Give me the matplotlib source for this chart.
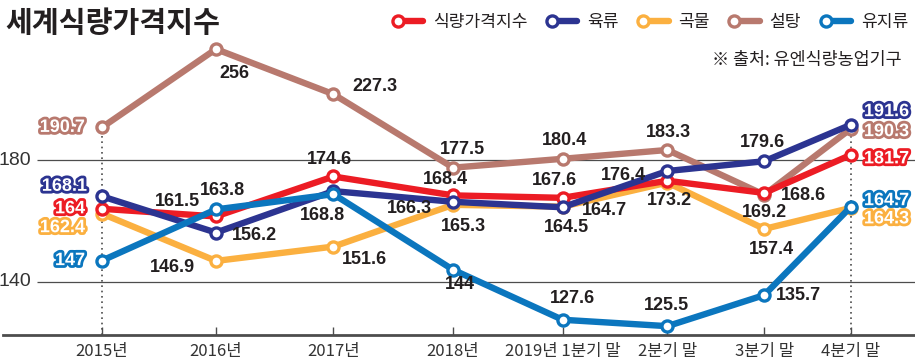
import matplotlib
matplotlib.use("Agg")
import matplotlib.pyplot as plt
import matplotlib.patheffects as pe
import numpy as np
from matplotlib.lines import Line2D
from matplotlib.legend_handler import HandlerLine2D
from matplotlib.font_manager import FontProperties

plt.rcParams["font.family"] = ["Liberation Sans", "Noto Sans CJK KR"]

# ---- data ----
categories = ["2015년", "2016년", "2017년", "2018년",
              "2019년 1분기 말", "2분기 말", "3분기 말", "4분기 말"]
food = [164.0, 161.5, 174.6, 168.4, 167.6, 173.2, 169.2, 181.7]
meat = [168.1, 156.2, 169.8, 166.3, 164.5, 176.4, 179.6, 191.6]
cereal = [162.4, 146.9, 151.6, 165.3, 164.7, 172.6, 157.4, 164.3]
sugar = [190.7, 256.0, 227.3, 177.5, 180.4, 183.3, 168.6, 190.3]
oils = [147.0, 163.8, 168.8, 144.0, 127.6, 125.5, 135.7, 164.7]
labeled = {  # which points carry a number in the reference
    "meat": [True, True, False, True, True, True, True, True],
    "cereal": [True, True, True, True, True, False, True, True],
}
series_names = ["식량가격지수", "육류", "곡물", "설탕", "유지류"]
y_ticks = [140, 180]

# ---- layout / style ----
x_pos = [0, 1, 2.03, 3.08, 4.04, 4.96, 5.81, 6.57]  # uneven spacing as in the original
colors = {"food": "#ec1c24", "meat": "#2c3491", "cereal": "#fbb040",
          "sugar": "#b8796e", "oils": "#0b76be"}
DARK = "#231f20"
GRID = "#4d4d4d"

# label offsets in pixels (dx, dy, ha); first/last labels are white with coloured outline
offsets = {
    "food": [(-17, 0, "right"), (-16, 15, "right"), (-4, 17, "center"), (-8, 16, "center"),
             (-8, 17, "center"), (2, -20, "center"), (0, -20, "center"), (13, -4, "left")],
    "meat": [(-15, 10, "right"), (16, -3, "left"), None, (-21, -7, "right"),
             (4, -20, "center"), (-21, -4, "right"), (-2, 19, "center"), (13, 13, "left")],
    "cereal": [(-17, -14, "right"), (-21, -7, "right"), (9, -13, "left"), (10, -22, "center"),
               (19, -4, "left"), None, (7, -21, "center"), (13, -11, "left")],
    "sugar": [(-17, 0, "right"), (18, -24, "center"), (19, 8, "left"), (9, 18, "center"),
              (2, 18, "center"), (1, 17, "center"), (17, -1, "left"), (13, -3, "left")],
    "oils": [(-17, 0, "right"), (6, 19, "center"), (-11, -21, "center"), (7, -15, "center"),
             (10, 21, "center"), (-1, 21, "center"), (12, 0, "left"), (13, 6, "left")],
}

# the original squeezes the top of the axis (sugar peaks); reproduce with a piecewise scale
knots_val = [0, 192, 227.3, 256, 400]
knots_scl = [0, 192, 201.6, 216.4, 288.4]


def fwd(v):
    return np.interp(v, knots_val, knots_scl)


def inv(t):
    return np.interp(t, knots_scl, knots_val)


class LeftMarkerHandler(HandlerLine2D):
    # legend key with the circle at the left end of the line
    def create_artists(self, legend, orig_handle, xdescent, ydescent,
                       width, height, fontsize, trans):
        r = 0.3 * fontsize
        xdata = np.array([-xdescent + r, -xdescent + width])
        ydata = np.full_like(xdata, (height - ydescent) / 2)
        line = Line2D(xdata, ydata)
        self.update_prop(line, orig_handle, legend)
        line.set_markevery([0])
        line.set_transform(trans)
        return [line]


W, H = 915, 364
fig = plt.figure(figsize=(W / 100, H / 100), dpi=100)
ax = fig.add_axes([3 / W, 29 / H, 912 / W, 335 / H])
ax.patch.set_alpha(0)
ax.set_yscale("function", functions=(fwd, inv))
ax.set_xlim(-0.868, 7.132)
ax.set_ylim(122.6, float(inv(232.5)))

ymin = ax.get_ylim()[0]
xmax = ax.get_xlim()[1]
ax.hlines(y_ticks, -0.57, xmax, color=GRID, lw=0.9, zorder=1)
ax.vlines(x_pos[0], ymin, sugar[0], color=GRID, lw=1.2, linestyles=(0, (1, 2.2)), zorder=1)
ax.vlines(x_pos[-1], ymin, meat[-1], color=GRID, lw=1.2, linestyles=(0, (1, 2.2)), zorder=1)

data = {"food": food, "meat": meat, "cereal": cereal, "sugar": sugar, "oils": oils}
zorders = {"sugar": 3, "cereal": 4, "food": 5, "meat": 6, "oils": 7}
handles = {}
for key, vals in data.items():
    (ln,) = ax.plot(x_pos, vals, color=colors[key], lw=4.6, marker="o", ms=8,
                    mfc="white", mec=colors[key], mew=2.4, zorder=zorders[key],
                    solid_capstyle="round")
    handles[key] = ln
    for i, v in enumerate(vals):
        off = offsets[key][i]
        if off is None or not labeled.get(key, [True] * 8)[i]:
            continue
        dx, dy, ha = off
        edge = i in (0, len(vals) - 1)
        txt = ax.annotate(f"{v:g}", (x_pos[i], v), xytext=(dx, dy),
                          textcoords="offset pixels", ha=ha, va="center",
                          fontsize=13, fontweight="bold",
                          color="white" if edge else DARK, zorder=10)
        if edge:
            txt.set_path_effects([pe.withStroke(linewidth=4, foreground=colors[key])])

for s in ("left", "right", "top"):
    ax.spines[s].set_visible(False)
ax.spines["bottom"].set_color(GRID)
ax.spines["bottom"].set_linewidth(2)

ax.set_xticks(x_pos, categories)
ax.tick_params(axis="x", direction="in", length=6, width=1, color=GRID, pad=6,
               labelsize=12, labelcolor="#333333")
for lab in ax.get_xticklabels():
    lab.set_family(["Liberation Sans Narrow", "Noto Sans CJK KR"])

# y labels sit inside the plot, left of where the grid lines start
ax.set_yticks([])
for yv in y_ticks:
    ax.text(-0.62, yv, f"{yv}", ha="right", va="center", fontsize=14,
            color="#333333", family=["Liberation Sans Narrow", "Liberation Sans"])

fig.text(5 / W, 1 - 23 / H, "세계식량가격지수", ha="left", va="center",
         fontsize=21, fontweight="bold", color=DARK, family=["Noto Sans CJK KR"])
fig.text(902 / W, 1 - 60 / H, "※ 출처: 유엔식량농업기구", ha="right", va="center",
         fontsize=12.5, color=DARK, family=["Noto Sans CJK KR", "DejaVu Sans"])

order = ["food", "meat", "cereal", "sugar", "oils"]
fig.legend([handles[k] for k in order], series_names, loc="center right",
           bbox_to_anchor=(908 / W, 1 - 22 / H), ncol=5, frameon=False,
           handlelength=1.8, handletextpad=0.55, columnspacing=1.15,
           borderpad=0, borderaxespad=0,
           prop=FontProperties(family="Noto Sans CJK KR", size=12.3),
           labelcolor=DARK, handler_map={Line2D: LeftMarkerHandler()})

fig.savefig("out.png", dpi=100)
